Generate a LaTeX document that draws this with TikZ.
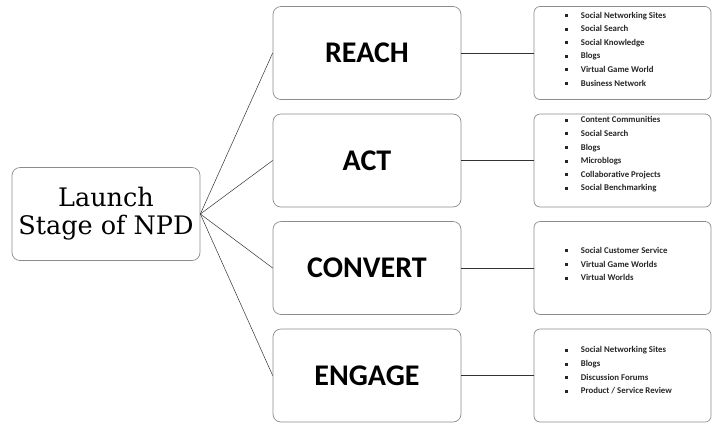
\documentclass[tikz,border=0pt]{standalone}
\usepackage{fontspec}
\setmainfont{Carlito}
\newfontfamily\launchfont{DejaVu Serif}
\def\sqbullet{\rule[0.25ex]{3pt}{3pt}\hspace{13pt}}

\begin{document}
\begin{tikzpicture}[x=1pt, y=-1pt, line cap=round,
	stagebox/.style={draw=black!45, rounded corners=8pt, line width=0.7pt, minimum width=188pt, minimum height=93pt, inner sep=0pt},
	toolbox/.style={draw=black!45, rounded corners=6pt, line width=0.7pt, minimum width=177pt, minimum height=93pt, inner sep=0pt},
	toollist/.style={anchor=west, align=left, inner sep=0pt, font=\fontsize{8.8}{13.6}\selectfont\bfseries, text=black!85},
	link/.style={draw=black!80, line width=0.5pt}]
	\useasboundingbox (0,0) rectangle (712,424);
	
	% launch
	\node[stagebox, font=\launchfont\fontsize{25.5}{28}\selectfont, align=center] (launch) at (106,214) {Launch\\Stage of NPD};
	
	% stages
	\node[stagebox, font=\fontsize{30}{32}\selectfont\bfseries] (reach) at (367,53) {REACH};
	\node[stagebox, font=\fontsize{30}{32}\selectfont\bfseries] (act) at (367,160.5) {ACT};
	\node[stagebox, font=\fontsize{30}{32}\selectfont\bfseries] (convert) at (367,268) {CONVERT};
	\node[stagebox, font=\fontsize{30}{32}\selectfont\bfseries] (engage) at (367,375.5) {ENGAGE};
	
	% tools
	\node[toolbox] (reachtools) at (622.5,53) {};
	\node[toolbox] (acttools) at (622.5,160.5) {};
	\node[toolbox] (converttools) at (622.5,268) {};
	\node[toolbox] (engagetools) at (622.5,375.5) {};
	
	\node[toollist] (reachlist) at ([xshift=31pt,yshift=4pt]reachtools.west) {\sqbullet Social Networking Sites\\\sqbullet Social Search\\\sqbullet Social Knowledge\\\sqbullet Blogs\\\sqbullet Virtual Game World\\\sqbullet Business Network};
	\node[toollist] (actlist) at ([xshift=31pt,yshift=6pt]acttools.west) {\sqbullet Content Communities\\\sqbullet Social Search\\\sqbullet Blogs\\\sqbullet Microblogs\\\sqbullet Collaborative Projects\\\sqbullet Social Benchmarking};
	\node[toollist] (convertlist) at ([xshift=31pt,yshift=4pt]converttools.west) {\sqbullet Social Customer Service\\\sqbullet Virtual Game Worlds\\\sqbullet Virtual Worlds};
	\node[toollist] (engagelist) at ([xshift=31pt,yshift=5pt]engagetools.west) {\sqbullet Social Networking Sites\\\sqbullet Blogs\\\sqbullet Discussion Forums\\\sqbullet Product / Service Review};
	
	% links
	\draw[link] (launch.east) -- (reach.west);
	\draw[link] (launch.east) -- (act.west);
	\draw[link] (launch.east) -- (convert.west);
	\draw[link] (launch.east) -- (engage.west);
	
	\draw[link] (reach.east) -- (reachtools.west);
	\draw[link] (act.east) -- (acttools.west);
	\draw[link] (convert.east) -- (converttools.west);
	\draw[link] (engage.east) -- (engagetools.west);
\end{tikzpicture}
\end{document}
